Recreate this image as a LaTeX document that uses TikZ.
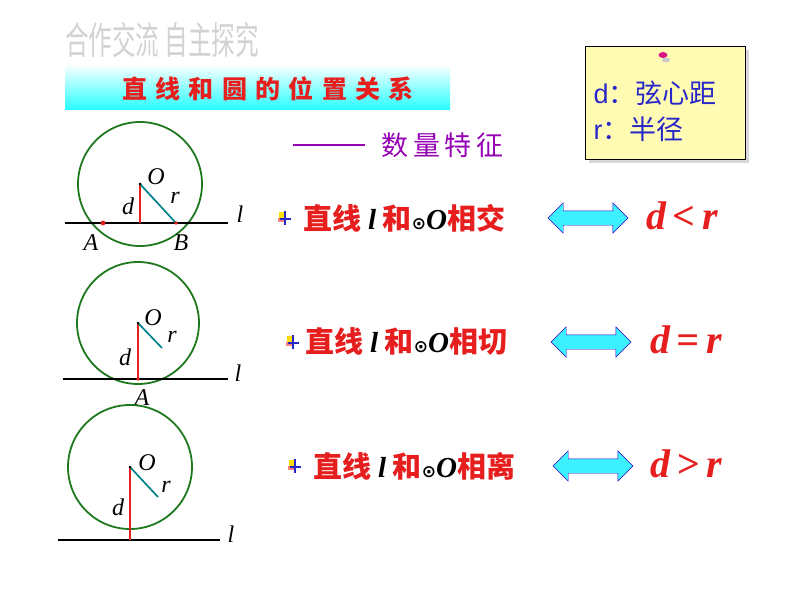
\documentclass[tikz,border=0pt]{standalone}
\usepackage{fontspec}
\setmainfont{Liberation Serif}
\newfontfamily\cjk{Noto Sans CJK SC}
\newfontfamily\djv{DejaVu Sans}
\newfontfamily\lsans{Liberation Sans}
\usetikzlibrary{shapes.arrows,shadows,calc}
\definecolor{cgreen}{RGB}{30,120,30}
\definecolor{cteal}{RGB}{0,130,140}
\definecolor{cred}{RGB}{230,30,30}
\definecolor{cblue}{RGB}{40,40,200}
\definecolor{cpurple}{RGB}{150,0,180}
\definecolor{ccyan}{RGB}{60,240,255}
\tikzset{
 circ/.style={draw=cgreen,line width=1.8pt},
 baseline/.style={draw=black,line width=2.2pt},
 dline/.style={draw=cred,line width=1.3pt},
 rline/.style={draw=cteal,line width=1.7pt},
 dot/.style={circle,fill=cred,inner sep=1.7pt},
 lab/.style={font=\fontsize{24}{24}\selectfont\itshape},
 rowtxt/.style={anchor=west,text=cred,font=\fontsize{29}{29}\selectfont\bfseries\cjk},
 rel/.style={text=cred,font=\fontsize{40}{40}\selectfont\bfseries\itshape},
 darr/.style={double arrow,fill=ccyan,draw=blue!60!violet,minimum width=30pt,minimum height=80pt,double arrow head extend=8pt,inner ysep=7pt,inner xsep=0pt},
}
\newcommand{\mybullet}[1]{\fill[yellow!80!orange] ($(#1)+(-6,-6)$) rectangle ($(#1)+(0,0)$);
 \fill[red!50] ($(#1)+(-7,0)$) rectangle ($(#1)+(-1,4)$);
 \draw[cblue,line width=1.5pt] ($(#1)+(-5,1)$) -- ($(#1)+(6,1)$) ($(#1)+(0,-7)$) -- ($(#1)+(0,7)$);}
\newcommand{\odotO}{{\djv\fontsize{17}{17}\selectfont\color{black}⊙}{\rmfamily\itshape\color{black}O}}
\begin{document}
\begin{tikzpicture}[x=1pt,y=-1pt]
\useasboundingbox (0,0) rectangle (794,596);
% header
\node[text=gray!35,font=\fontsize{38}{38}\selectfont\cjk,xscale=0.62] (hdr) at (162,40) {合作交流\ 自主探究};
\shade[top color=white,bottom color=cyan!85] (65,64) rectangle (450,110);
\node[text=cred,font=\fontsize{25}{25}\selectfont\bfseries\cjk] (title) at (268,89) {直\,\,线\,\,和\,\,圆\,\,的\,\,位\,\,置\,\,关\,\,系};
\coordinate (da) at (293,145); \coordinate (db) at (365,145);
\draw[cpurple,line width=1.3pt] (da) -- (db);
\node[text=cpurple,font=\fontsize{27}{27}\selectfont\cjk,anchor=west] (feat) at (378,145) {数\,量\,特\,征};
% note box
\node[draw=black,line width=1pt,fill=yellow!30,minimum width=160pt,minimum height=113pt,drop shadow={shadow xshift=4pt,shadow yshift=-4pt,fill=gray!60}] (note) at (665,103) {};
\fill[gray!40] (666,60) ellipse (4 and 2.5);
\fill[magenta!80!violet] (663,55) ellipse (4.5 and 3);
\node[anchor=west,text=cblue,font=\fontsize{27}{27}\selectfont\lsans] (n1) at (590,93) {d{\cjk ：弦心距}};
\node[anchor=west,text=cblue,font=\fontsize{27}{27}\selectfont\lsans] (n2) at (590,129) {r{\cjk ：半径}};
% circle 1
\coordinate (O1) at (140,184);
\draw[circ] (O1) circle (62);
\coordinate (L1a) at (65,223); \coordinate (L1b) at (228,223);
\draw[baseline] (L1a) -- (L1b);
\coordinate (H1) at (140,223); \coordinate (B1) at (176,223);
\draw[dline] (O1) -- (H1);
\draw[rline] (O1) -- (B1);
\node[dot] (A1) at (103,223) {}; \node[dot,inner sep=1.3pt] (Bd) at (B1) {};
\fill (O1) circle (1.5);
\node[lab] at (156,177) {O}; \node[lab] at (128,206) {d}; \node[lab] at (175,198) {r};
\node[lab] at (91,243) {A}; \node[lab] at (181,243) {B}; \node[lab] at (240,214) {l};
% circle 2
\coordinate (O2) at (138,323);
\draw[circ] (O2) circle (61);
\coordinate (L2a) at (63,379); \coordinate (L2b) at (228,379);
\draw[baseline] (L2a) -- (L2b);
\coordinate (H2) at (138,379); \coordinate (R2) at (162,348);
\draw[dline] (O2) -- (H2); \draw[rline] (O2) -- (R2);
\node[dot,inner sep=1.3pt] (T2) at (H2) {};
\fill (O2) circle (1.5);
\node[lab] at (153,318) {O}; \node[lab] at (172,337) {r}; \node[lab] at (125,357) {d};
\node[lab] at (142,398) {A}; \node[lab] at (238,373) {l};
% circle 3
\coordinate (O3) at (130,467);
\draw[circ] (O3) circle (62);
\coordinate (L3a) at (58,540); \coordinate (L3b) at (220,540);
\draw[baseline] (L3a) -- (L3b);
\coordinate (H3) at (130,540); \coordinate (R3) at (158,497);
\draw[dline] (O3) -- (H3); \draw[rline] (O3) -- (R3);
\fill (O3) circle (1.5);
\node[lab] at (147,463) {O}; \node[lab] at (166,487) {r}; \node[lab] at (118,507) {d};
\node[lab] at (231,534) {l};
% rows
\mybullet{285,218}
\node[rowtxt] (t1) at (300,218) {直线 {\rmfamily\itshape\color{black}l} 和\odotO 相交};
\node[darr] (a1) at (588,218) {};
\node[rel] (r1) at (682,216) {d\,<\,r};
\mybullet{293,342}
\node[rowtxt] (t2) at (302,342) {直线 {\rmfamily\itshape\color{black}l} 和\odotO 相切};
\node[darr] (a2) at (591,342) {};
\node[rel] (r2) at (686,340) {d\,=\,r};
\mybullet{295,466}
\node[rowtxt] (t3) at (310,466) {直线 {\rmfamily\itshape\color{black}l} 和\odotO 相离};
\node[darr] (a3) at (593,466) {};
\node[rel] (r3) at (686,464) {d\,>\,r};
\end{tikzpicture}
\end{document}
